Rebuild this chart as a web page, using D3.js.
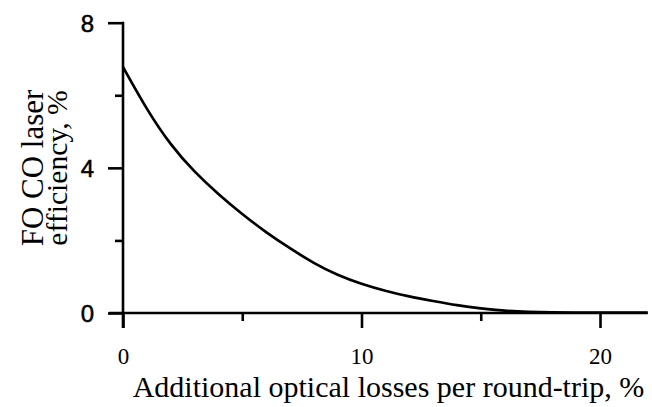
<!DOCTYPE html>
<html>
<head>
<meta charset="utf-8">
<script src="https://cdn.jsdelivr.net/npm/d3@7"></script>
<style>
  html, body { margin: 0; padding: 0; background: #fff; }
  svg { display: block; }
</style>
</head>
<body>
<svg id="chart" width="652" height="407"></svg>
<script>
// ---- data ----
const losses = [0, 1, 2, 3, 4, 5, 6, 7, 8, 9, 10, 11, 12, 13, 14, 15, 16, 17, 18, 19, 20, 21, 22];
const efficiency = [6.78, 5.6, 4.62, 3.88, 3.27, 2.72, 2.22, 1.78, 1.37, 1.04, 0.80, 0.61, 0.45, 0.33, 0.21, 0.12, 0.06, 0.03, 0.015, 0.01, 0.01, 0.01, 0.01];
const xMajorTicks = [0, 10, 20];
const xMinorTicks = [5, 15];
const yMajorTicks = [0, 4, 8];
const yMinorTicks = [2, 6];
const xLabel = "Additional optical losses per round-trip, %";
const yLabelLines = ["FO CO laser", "efficiency, %"];

const svg = d3.select("#chart");
const x = d3.scaleLinear().domain([0, 22]).range([123, 647.7]);
const y = d3.scaleLinear().domain([0, 8]).range([313, 22.7]);

const serif = "'Liberation Serif', 'Times New Roman', Times, serif";
const sans = "'Liberation Sans', Arial, Helvetica, sans-serif";
const SW = 2.6;

// y axis: major + minor ticks
const yMajor = svg.append("g").attr("transform", `translate(${x(0)},0)`)
  .call(d3.axisLeft(y).tickValues(yMajorTicks).tickSize(15).tickPadding(14).tickFormat(d3.format("d")));
const yMinor = svg.append("g").attr("transform", `translate(${x(0)},0)`)
  .call(d3.axisLeft(y).tickValues(yMinorTicks).tickSize(8).tickFormat(""));
// x axis: major + minor ticks
const xMajor = svg.append("g").attr("transform", `translate(0,${y(0)})`)
  .call(d3.axisBottom(x).tickValues(xMajorTicks).tickSize(15).tickPadding(0).tickFormat(d3.format("d")));
const xMinor = svg.append("g").attr("transform", `translate(0,${y(0)})`)
  .call(d3.axisBottom(x).tickValues(xMinorTicks).tickSize(8).tickFormat(""));

[yMajor, yMinor, xMajor, xMinor].forEach(g => {
  g.attr("font-size", null).attr("font-family", null);
  g.select(".domain").remove();
  g.selectAll(".tick line").attr("stroke", "#000").attr("stroke-width", SW);
});

yMajor.selectAll(".tick text")
  .style("font-family", sans).style("font-size", "24px").attr("fill", "#000")
  .attr("stroke", "#000").attr("stroke-width", 0.5)
  .attr("dy", "0.36em");
xMajor.selectAll(".tick text")
  .style("font-family", serif).style("font-size", "23px").attr("fill", "#000")
  .attr("y", 364 - y(0)).attr("dy", 0);

// axis lines
svg.append("line")
  .attr("x1", x(0)).attr("x2", x(0))
  .attr("y1", y(8) - 1).attr("y2", y(0) + 15)
  .attr("stroke", "#000").attr("stroke-width", SW);
svg.append("line")
  .attr("x1", x(0) - 14).attr("x2", x(22))
  .attr("y1", y(0)).attr("y2", y(0))
  .attr("stroke", "#000").attr("stroke-width", SW);

// curve
const line = d3.line()
  .x((d, i) => x(losses[i]))
  .y(d => y(d))
  .curve(d3.curveBasis);
svg.append("path")
  .datum(efficiency)
  .attr("d", line)
  .attr("fill", "none")
  .attr("stroke", "#000")
  .attr("stroke-width", 2.7);

// axis titles
svg.append("text")
  .attr("x", 388.5).attr("y", 397)
  .attr("text-anchor", "middle")
  .style("font-family", serif).style("font-size", "30px").attr("fill", "#000")
  .text(xLabel);

const yl = [{t: yLabelLines[0], bx: 42.5, fs: 31}, {t: yLabelLines[1], bx: 66.5, fs: 29.6}];
yl.forEach(l => {
  svg.append("text")
    .attr("transform", `translate(${l.bx},168) rotate(-90)`)
    .attr("text-anchor", "middle")
    .style("font-family", serif).style("font-size", l.fs + "px").attr("fill", "#000")
    .text(l.t);
});
</script>
</body>
</html>
